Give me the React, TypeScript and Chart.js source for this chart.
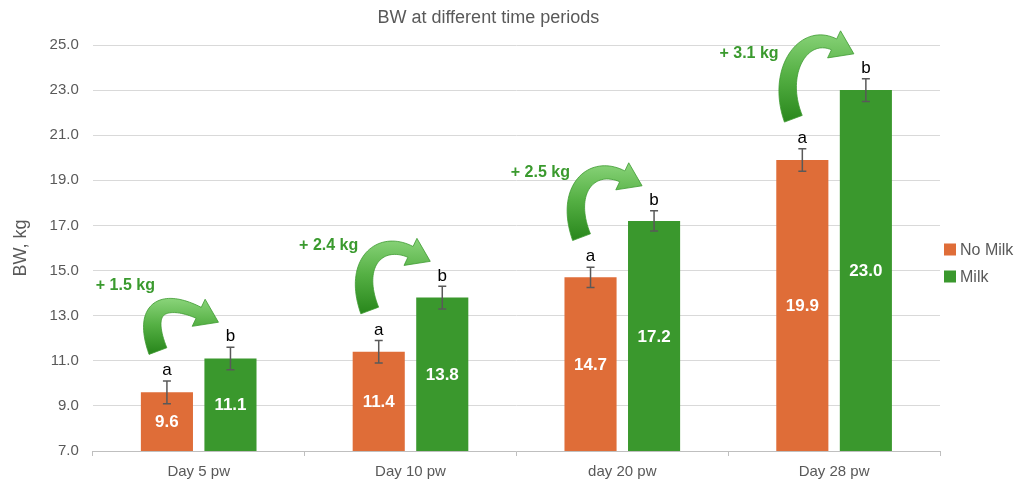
import React, { useEffect, useRef } from 'react';
import { Chart, registerables } from 'chart.js';
Chart.register(...registerables);

const categories = ['Day 5 pw', 'Day 10 pw', 'day 20 pw', 'Day 28 pw'];
const noMilk = [9.6, 11.4, 14.7, 19.9];
const milk = [11.1, 13.8, 17.2, 23.0];
const noMilkErr = [0.5, 0.5, 0.45, 0.5];
const milkErr = [0.5, 0.5, 0.45, 0.5];
const noMilkLetters = ['a', 'a', 'a', 'a'];
const milkLetters = ['b', 'b', 'b', 'b'];
const gains = ['+ 1.5 kg', '+ 2.4 kg', '+ 2.5 kg', '+ 3.1 kg'];
const yMin = 7;
const yMax = 25;
const yStep = 2;
const seriesNames = ['No Milk', 'Milk'];

const FONT = "'Liberation Sans', Arial, sans-serif";
const ORANGE = '#DF6D38';
const GREEN = '#3A982D';
const GRAY = '#595959';

const errs = [noMilkErr, milkErr];
const letters = [noMilkLetters, milkLetters];

const titlePlugin = {
  id: 'customTitle',
  afterDraw(chart: any) {
    const ctx = chart.ctx;
    ctx.save();
    ctx.font = `18px ${FONT}`;
    ctx.fillStyle = GRAY;
    ctx.textAlign = 'center';
    ctx.textBaseline = 'middle';
    ctx.fillText('BW at different time periods', chart.width * 0.475, 18);
    // legend
    const area = chart.chartArea;
    const midY = (area.top + area.bottom) / 2;
    const n = chart.data.datasets.length;
    chart.data.datasets.forEach((ds: any, i: number) => {
      const y = midY + (i - (n - 1) / 2) * 27 + 15;
      ctx.fillStyle = ds.backgroundColor;
      ctx.fillRect(area.right + 4, y - 6, 12, 12);
      ctx.fillStyle = GRAY;
      ctx.font = `16px ${FONT}`;
      ctx.textAlign = 'left';
      ctx.fillText(ds.label, area.right + 20, y + 1);
    });
    ctx.restore();
  },
};

const errorPlugin = {
  id: 'errorBars',
  afterDatasetsDraw(chart: any) {
    const ctx = chart.ctx;
    const ys = chart.scales.y;
    ctx.save();
    for (let d = 0; d < 2; d++) {
      const meta = chart.getDatasetMeta(d);
      const vals = chart.data.datasets[d].data as number[];
      meta.data.forEach((el: any, i: number) => {
        const v = vals[i];
        const e = errs[d][i];
        const yt = ys.getPixelForValue(v + e);
        const yb = ys.getPixelForValue(v - e);
        const x = el.x;
        const base = Math.min(el.base, ys.bottom);
        ctx.fillStyle = '#FFFFFF';
        ctx.font = `bold 17px ${FONT}`;
        ctx.textAlign = 'center';
        ctx.textBaseline = 'middle';
        ctx.fillText(v.toFixed(1), x, (el.y + base) / 2 + 1);
        ctx.strokeStyle = GRAY;
        ctx.lineWidth = 1.5;
        ctx.beginPath();
        ctx.moveTo(x, yt);
        ctx.lineTo(x, yb);
        ctx.moveTo(x - 4, yt);
        ctx.lineTo(x + 4, yt);
        ctx.moveTo(x - 4, yb);
        ctx.lineTo(x + 4, yb);
        ctx.stroke();
        ctx.fillStyle = '#000000';
        ctx.font = `17px ${FONT}`;
        ctx.textBaseline = 'bottom';
        ctx.fillText(letters[d][i], x, yt - 2);
      });
    }
    ctx.restore();
  },
};

function cubic(p0: number[], p1: number[], p2: number[], p3: number[], t: number) {
  const u = 1 - t;
  const x = u * u * u * p0[0] + 3 * u * u * t * p1[0] + 3 * u * t * t * p2[0] + t * t * t * p3[0];
  const y = u * u * u * p0[1] + 3 * u * u * t * p1[1] + 3 * u * t * t * p2[1] + t * t * t * p3[1];
  const dx = 3 * u * u * (p1[0] - p0[0]) + 6 * u * t * (p2[0] - p1[0]) + 3 * t * t * (p3[0] - p2[0]);
  const dy = 3 * u * u * (p1[1] - p0[1]) + 6 * u * t * (p2[1] - p1[1]) + 3 * t * t * (p3[1] - p2[1]);
  const len = Math.hypot(dx, dy) || 1;
  return { x, y, nx: -dy / len, ny: dx / len };
}

const arrowPlugin = {
  id: 'gainArrows',
  afterDatasetsDraw(chart: any) {
    const ctx = chart.ctx;
    const ys = chart.scales.y;
    const m0 = chart.getDatasetMeta(0);
    const m1 = chart.getDatasetMeta(1);
    ctx.save();
    categories.forEach((_, i) => {
      const ox = m0.data[i].x;
      const gx = m1.data[i].x;
      const eo = ys.getPixelForValue(noMilk[i] + noMilkErr[i]);
      const eg = ys.getPixelForValue(milk[i] + milkErr[i]);
      const T = [ox - 9, eo - 30];
      const H = [gx - 12, eg - 25];
      const dir = [0.9, 0.43];
      const headLen = 22;
      const B = [H[0] - dir[0] * headLen, H[1] - dir[1] * headLen];
      const P1 = [T[0] - 18, T[1] - 48];
      const P2 = [B[0] - dir[0] * 34, B[1] - dir[1] * 34];
      const N = 40;
      const left: number[][] = [];
      const right: number[][] = [];
      for (let k = 0; k <= N; k++) {
        const t = k / N;
        const p = cubic(T, P1, P2, B, t);
        const w = (19 - 7 * t) / 2;
        left.push([p.x + p.nx * w, p.y + p.ny * w]);
        right.push([p.x - p.nx * w, p.y - p.ny * w]);
      }
      const end = cubic(T, P1, P2, B, 1);
      const pts = left.concat(right);
      const minY = Math.min(...pts.map((q) => q[1]), B[1] - 14);
      const grad = ctx.createLinearGradient(0, minY, 0, T[1]);
      grad.addColorStop(0, '#8AD47A');
      grad.addColorStop(0.5, '#55B044');
      grad.addColorStop(1, '#2C8A1F');
      ctx.beginPath();
      ctx.moveTo(left[0][0], left[0][1]);
      left.forEach((q) => ctx.lineTo(q[0], q[1]));
      ctx.lineTo(B[0] + end.nx * 15, B[1] + end.ny * 15);
      ctx.lineTo(H[0], H[1]);
      ctx.lineTo(B[0] - end.nx * 15, B[1] - end.ny * 15);
      for (let k = right.length - 1; k >= 0; k--) ctx.lineTo(right[k][0], right[k][1]);
      ctx.closePath();
      ctx.fillStyle = grad;
      ctx.fill();
      ctx.strokeStyle = '#3E9A31';
      ctx.lineWidth = 0.8;
      ctx.stroke();
      // gain text, left of the arrow
      const ty = eo - 95;
      const near = pts.filter((q) => Math.abs(q[1] - ty) < 10).map((q) => q[0]);
      const limit = near.length ? Math.min(...near) - 6 : ox - 12;
      ctx.fillStyle = '#3A9A2E';
      ctx.font = `bold 16px ${FONT}`;
      ctx.textAlign = 'right';
      ctx.textBaseline = 'middle';
      ctx.fillText(gains[i], Math.min(ox - 12, limit), ty);
    });
    ctx.restore();
  },
};

export default function App() {
  const ref = useRef<HTMLCanvasElement>(null);
  useEffect(() => {
    document.body.style.margin = '0';
    Chart.defaults.font.family = FONT;
    const chart = new Chart(ref.current!, {
      type: 'bar',
      data: {
        labels: categories,
        datasets: [
          { label: seriesNames[0], data: noMilk, backgroundColor: ORANGE, categoryPercentage: 0.6, barPercentage: 0.82 },
          { label: seriesNames[1], data: milk, backgroundColor: GREEN, categoryPercentage: 0.6, barPercentage: 0.82 },
        ],
      },
      options: {
        responsive: false,
        animation: false,
        layout: { padding: { top: 45, right: 88, left: 6, bottom: -2 } },
        plugins: {
          legend: { display: false },
          title: { display: false },
          tooltip: { enabled: false },
        },
        scales: {
          x: {
            grid: { display: true, drawOnChartArea: false, tickLength: 5, color: '#BFBFBF' },
            border: { color: '#BFBFBF' },
            ticks: { color: GRAY, font: { size: 15, family: FONT }, padding: 7 },
          },
          y: {
            min: yMin,
            max: yMax,
            ticks: { stepSize: yStep, color: GRAY, font: { size: 15, family: FONT }, padding: 14, callback: (v: any) => Number(v).toFixed(1) },
            grid: { color: '#D9D9D9', drawTicks: false, lineWidth: 1 },
            border: { display: false },
            title: { display: true, text: 'BW, kg', color: GRAY, font: { size: 18, family: FONT }, padding: 4 },
          },
        },
      },
      plugins: [titlePlugin, arrowPlugin, errorPlugin],
    });
    return () => chart.destroy();
  }, []);
  return (
    <div style={{ width: 1028, height: 486 }}>
      <canvas ref={ref} width={1028} height={486} />
    </div>
  );
}
